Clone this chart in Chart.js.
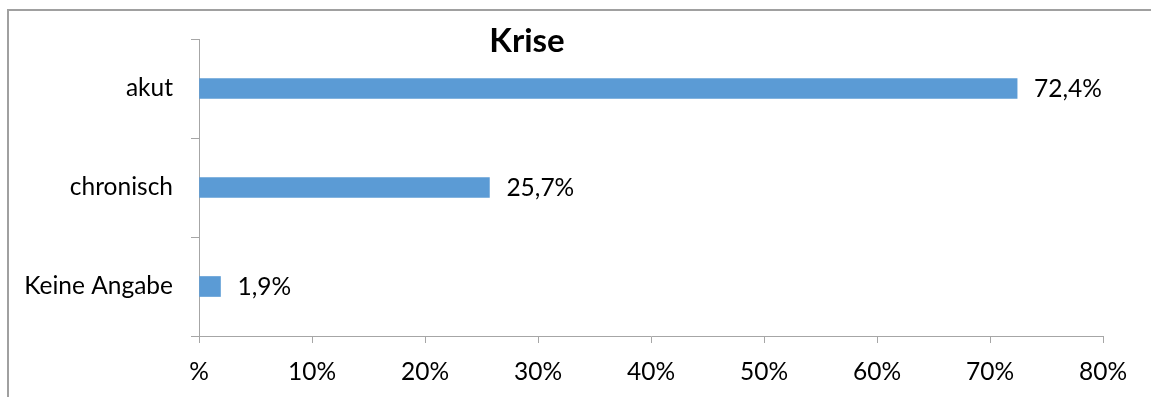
<!DOCTYPE html>
<html>
<head>
<meta charset="utf-8">
<script src="https://cdn.jsdelivr.net/npm/chart.js@4"></script>
<style>
  html, body { margin: 0; padding: 0; background: #ffffff; }
  #wrap { width: 1151px; height: 397px; }
</style>
</head>
<body>
<div id="wrap"><canvas id="c" width="1151" height="397"></canvas></div>
<script>
const title = 'Krise';
const categories = ['akut', 'chronisch', 'Keine Angabe'];
const values = [72.4, 25.7, 1.9];
const xTicks = [0, 10, 20, 30, 40, 50, 60, 70, 80];
const xTickLabels = ['%', '10%', '20%', '30%', '40%', '50%', '60%', '70%', '80%'];

const FONT = 'Lato';
const FSIZE = 24.5;
const axisColor = '#A6A6A6';

const framePlugin = {
  id: 'frame',
  beforeDraw(chart) {
    const ctx = chart.ctx;
    ctx.save();
    ctx.fillStyle = '#ffffff';
    ctx.fillRect(0, 0, chart.width, chart.height);
    ctx.strokeStyle = '#A0A0A0';
    ctx.lineWidth = 2;
    ctx.strokeRect(8, 10, chart.width + 20, chart.height + 20);
    ctx.restore();
  }
};

const titlePlugin = {
  id: 'titleText',
  afterDraw(chart) {
    const ctx = chart.ctx;
    ctx.save();
    ctx.font = 'bold 33px ' + FONT;
    ctx.fillStyle = '#000000';
    ctx.textAlign = 'center';
    ctx.textBaseline = 'alphabetic';
    ctx.fillText(title, 527, 52);
    ctx.restore();
  }
};

const labelPlugin = {
  id: 'valueLabels',
  afterDatasetsDraw(chart) {
    const ctx = chart.ctx;
    const meta = chart.getDatasetMeta(0);
    ctx.save();
    ctx.font = FSIZE + 'px ' + FONT;
    ctx.fillStyle = '#000000';
    ctx.textAlign = 'left';
    ctx.textBaseline = 'middle';
    meta.data.forEach((bar, i) => {
      const txt = values[i].toFixed(1).replace('.', ',') + '%';
      ctx.fillText(txt, bar.x + 17, bar.y + 1);
    });
    ctx.restore();
  }
};

new Chart(document.getElementById('c'), {
  type: 'bar',
  data: {
    labels: categories,
    datasets: [{
      data: values,
      backgroundColor: '#5B9BD5',
      borderWidth: 0,
      barThickness: 20
    }]
  },
  options: {
    indexAxis: 'y',
    responsive: false,
    animation: false,
    devicePixelRatio: 1,
    layout: { padding: { top: 39, right: 48, left: 0, bottom: 0 } },
    plugins: {
      legend: { display: false },
      title: { display: false },
      tooltip: { enabled: false }
    },
    scales: {
      x: {
        min: 0,
        max: 80,
        afterFit(scale) { scale.height = 61; },
        afterBuildTicks(scale) { scale.ticks = xTicks.map(v => ({ value: v })); },
        ticks: {
          callback: (v) => xTickLabels[xTicks.indexOf(v)],
          color: '#000000',
          font: { family: FONT, size: FSIZE },
          padding: 14,
          maxRotation: 0
        },
        grid: {
          drawOnChartArea: false,
          drawTicks: true,
          tickLength: 7,
          color: axisColor,
          lineWidth: 1
        },
        border: { display: true, color: axisColor, width: 1 }
      },
      y: {
        afterFit(scale) { scale.width = 199; },
        ticks: {
          color: '#000000',
          font: { family: FONT, size: FSIZE },
          padding: 18
        },
        grid: {
          drawOnChartArea: false,
          drawTicks: true,
          tickLength: 8,
          offset: true,
          color: axisColor,
          lineWidth: 1
        },
        border: { display: true, color: axisColor, width: 1 }
      }
    }
  },
  plugins: [framePlugin, titlePlugin, labelPlugin]
});
</script>
</body>
</html>
